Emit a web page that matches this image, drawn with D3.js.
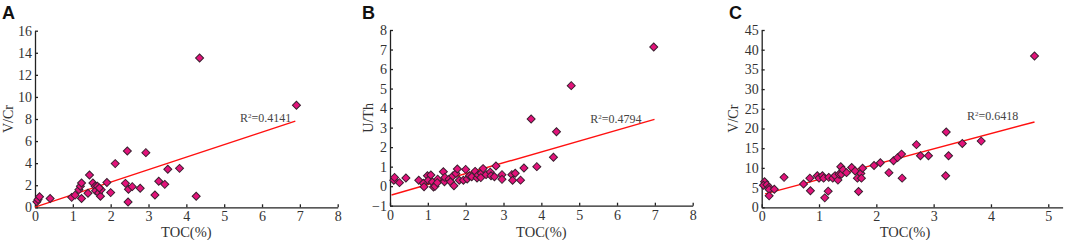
<!DOCTYPE html>
<html>
<head>
<meta charset="utf-8">
<script src="https://cdn.jsdelivr.net/npm/d3@7"></script>
<style>
  body { margin: 0; background: #fff; }
  svg { display: block; }
</style>
</head>
<body>
<script>
const W = 1065, H = 240;

// Panel A: TOC vs V/Cr
const tocA = [0.05, 0.08, 0.12, 0.40, 0.97, 1.06, 1.16, 1.20, 1.23, 1.23, 1.40, 1.44, 1.53, 1.59,
  1.60, 1.65, 1.68, 1.73, 1.75, 1.70, 1.90, 2.00, 2.12, 2.39, 2.44, 2.46, 2.47, 2.57, 2.78, 2.93,
  3.17, 3.27, 3.43, 3.51, 3.82, 4.26, 4.35, 6.91];
const vcrA = [0.50, 0.70, 0.95, 0.79, 0.90, 1.10, 1.60, 1.90, 2.20, 0.80, 1.27, 2.93, 2.20, 1.90,
  1.50, 1.90, 1.30, 1.00, 1.60, 1.75, 2.25, 1.33, 3.96, 2.17, 5.10, 0.48, 1.63, 1.87, 1.72, 4.95,
  1.12, 2.36, 2.08, 3.44, 3.53, 1.00, 13.53, 9.24];
const trendA = [[0, 0.02], [6.88, 7.8]];

// Panel B: TOC vs U/Th
const tocB = [0.10, 0.12, 0.25, 0.42, 0.76, 0.88, 0.90, 0.99, 1.01, 1.08, 1.12, 1.15, 1.19, 1.26,
  1.25, 1.41, 1.44, 1.45, 1.56, 1.60, 1.66, 1.69, 1.74, 1.78, 1.83, 1.94, 2.00, 2.04, 2.10, 2.16,
  2.25, 2.30, 2.33, 2.41, 2.46, 2.40, 2.54, 2.65, 2.67, 2.76, 2.80, 2.96, 2.96, 3.22, 3.24, 3.31,
  3.45, 3.54, 3.73, 3.88, 4.32, 4.40, 4.79, 6.97];
const uthB = [0.30, 0.45, 0.18, 0.42, 0.30, 0.15, -0.03, 0.53, 0.30, 0.57, 0.21, -0.04, -0.01, 0.36,
  0.18, 0.74, 0.23, 0.45, 0.36, 0.23, 0.52, 0.02, 0.65, 0.88, 0.30, 0.30, 0.86, 0.37, 0.53, 0.48,
  0.76, 0.42, 0.57, 0.66, 0.90, 0.44, 0.59, 0.72, 0.53, 0.48, 1.03, 0.59, 0.35, 0.59, 0.30, 0.66,
  0.31, 0.93, 3.44, 1.00, 1.48, 2.79, 5.15, 7.13];
const trendB = [[0.04, -0.45], [6.99, 3.42]];

// Panel C: TOC vs V/Cr
const tocC = [0.05, 0.03, 0.09, 0.13, 0.13, 0.13, 0.22, 0.39, 0.73, 0.84, 0.85, 0.97, 1.00, 1.06,
  1.08, 1.10, 1.16, 1.17, 1.24, 1.28, 1.33, 1.35, 1.38, 1.39, 1.42, 1.48, 1.57, 1.63, 1.67, 1.69,
  1.73, 1.74, 1.76, 1.96, 2.07, 2.22, 2.30, 2.37, 2.44, 2.45, 2.70, 2.77, 2.91, 3.22, 3.21, 3.26,
  3.50, 3.83, 4.76];
const vcrC = [6.5, 5.6, 5.7, 5.1, 4.5, 2.9, 4.6, 7.6, 5.9, 7.4, 4.2, 8.0, 7.4, 8.0,
  7.4, 2.4, 4.1, 7.6, 7.4, 8.0, 6.9, 8.4, 10.3, 8.4, 9.5, 8.8, 10.1, 9.2, 7.4, 4.0,
  8.6, 7.4, 9.9, 10.6, 11.3, 8.8, 11.8, 12.6, 13.5, 7.4, 15.9, 13.1, 13.1, 19.1, 8.0, 13.1,
  16.2, 16.8, 38.4];
const trendC = [[0.06, 3.4], [4.76, 21.66]];

const panels = [
  { letter: "A", yTitle: "V/Cr", r2: "0.4141", x: tocA, y: vcrA, trend: trendA,
    xDom: [0, 8], xTicks: d3.range(0, 9), yDom: [0, 16], yTicks: d3.range(0, 17, 2),
    left: 35, right: 337.7, top: 30.7, bottom: 207.3, letterX: 2, titleX: 13,
    r2At: [5.42, 7.73] },
  { letter: "B", yTitle: "U/Th", r2: "0.4794", x: tocB, y: uthB, trend: trendB,
    xDom: [0, 8], xTicks: d3.range(0, 9), yDom: [-1, 8], yTicks: d3.range(-1, 9),
    left: 390, right: 692.7, top: 30, bottom: 205.7, letterX: 362, titleX: 373,
    r2At: [5.29, 3.25] },
  { letter: "C", yTitle: "V/Cr", r2: "0.6418", x: tocC, y: vcrC, trend: trendC,
    xDom: [0, 5.25], xTicks: d3.range(0, 6), yDom: [0, 45], yTicks: d3.range(0, 46, 5),
    left: 761.7, right: 1062.6, top: 30, bottom: 207.3, letterX: 729, titleX: 738,
    r2At: [3.58, 22.2] }
];

const svg = d3.select("body").append("svg")
  .attr("width", W)
  .attr("height", H);

const diamond = d3.symbol().type(d3.symbolSquare).size(32);

panels.forEach(p => {
  const g = svg.append("g");

  const xScale = d3.scaleLinear().domain(p.xDom).range([p.left, p.right]);
  const yScale = d3.scaleLinear().domain(p.yDom).range([p.bottom, p.top]);

  // panel letter
  g.append("text")
    .attr("x", p.letterX)
    .attr("y", 19)
    .attr("font-family", "Liberation Sans, Arial, sans-serif")
    .attr("font-weight", "bold")
    .attr("font-size", 18)
    .attr("fill", "#111")
    .text(p.letter);

  // axes, ticks point inward
  const xAxis = d3.axisBottom(xScale).tickValues(p.xTicks)
    .tickSizeInner(-3).tickSizeOuter(0).tickPadding(4).tickFormat(d3.format("d"));
  const yAxis = d3.axisLeft(yScale).tickValues(p.yTicks)
    .tickSizeInner(-3).tickSizeOuter(0).tickPadding(3).tickFormat(d3.format("d"));

  const gx = g.append("g")
    .attr("transform", `translate(0,${p.bottom})`)
    .call(xAxis);
  const gy = g.append("g")
    .attr("transform", `translate(${p.left},0)`)
    .call(yAxis);

  [gx, gy].forEach(ax => {
    ax.selectAll("path, line").attr("stroke", "#222").attr("stroke-width", 1.3);
    ax.selectAll("text")
      .attr("font-family", "Liberation Serif, Times New Roman, serif")
      .attr("font-size", 14)
      .attr("fill", "#333");
  });
  gy.selectAll("text").attr("x", -3);

  // axis titles
  const lastTick = p.xTicks[p.xTicks.length - 1];
  g.append("text")
    .attr("x", xScale((p.xTicks[0] + lastTick) / 2))
    .attr("y", 237)
    .attr("text-anchor", "middle")
    .attr("font-family", "Liberation Serif, Times New Roman, serif")
    .attr("font-size", 14.5)
    .attr("fill", "#333")
    .text("TOC(%)");

  g.append("text")
    .attr("transform", `translate(${p.titleX},${(p.top + p.bottom) / 2}) rotate(-90)`)
    .attr("text-anchor", "middle")
    .attr("font-family", "Liberation Serif, Times New Roman, serif")
    .attr("font-size", 14)
    .attr("fill", "#333")
    .text(p.yTitle);

  // trend line
  g.append("line")
    .attr("x1", xScale(p.trend[0][0]))
    .attr("y1", yScale(p.trend[0][1]))
    .attr("x2", xScale(p.trend[1][0]))
    .attr("y2", yScale(p.trend[1][1]))
    .attr("stroke", "#ff1010")
    .attr("stroke-width", 1.4);

  // points
  const pts = p.x.map((v, i) => [v, p.y[i]]);
  g.selectAll("path.pt")
    .data(pts)
    .enter()
    .append("path")
    .attr("class", "pt")
    .attr("d", diamond)
    .attr("transform", d => `translate(${xScale(d[0])},${yScale(d[1])}) rotate(45)`)
    .attr("fill", "#e3127a")
    .attr("stroke", "#3a2030")
    .attr("stroke-width", 1);

  // R squared label
  const r2 = g.append("text")
    .attr("x", xScale(p.r2At[0]))
    .attr("y", yScale(p.r2At[1]))
    .attr("font-family", "Liberation Serif, Times New Roman, serif")
    .attr("font-size", 12)
    .attr("fill", "#444");
  r2.append("tspan").text("R");
  r2.append("tspan").attr("font-size", 7).attr("dy", -4).text("2");
  r2.append("tspan").attr("dy", 4).text("=" + p.r2);
});
</script>
</body>
</html>
